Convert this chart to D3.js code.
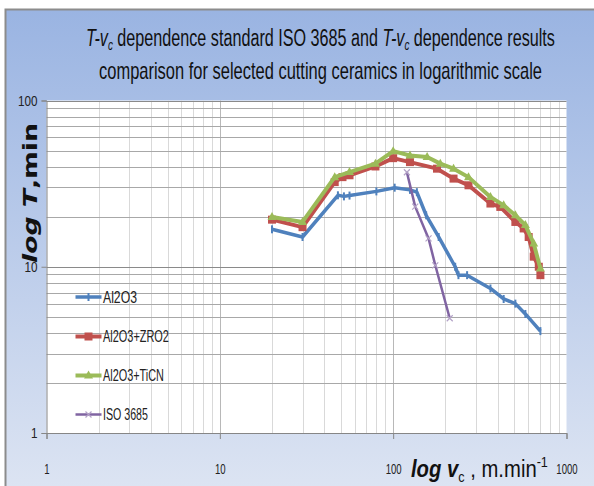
<!DOCTYPE html>
<html>
<head>
<meta charset="utf-8">
<script src="https://cdn.jsdelivr.net/npm/d3@7"></script>
<style>
  body { margin: 0; background: #fff; }
  svg { display: block; }
  text { font-family: "Liberation Sans", Arial, sans-serif; }
</style>
</head>
<body>
<svg id="chart" width="594" height="486"></svg>
<script>
// data (v in m/min, T in min)
const seriesNames = ["Al2O3", "Al2O3+ZRO2", "Al2O3+TiCN", "ISO 3685"];
const seriesColors = ["#4f81bd", "#c0504d", "#9bbb59", "#8064a2"];

const al2o3V = [20, 30, 48, 52, 56, 80, 102, 125, 137, 155, 183, 228, 238, 267, 364, 434, 507, 579, 707];
const al2o3T = [16.8, 15.1, 26.9, 26.5, 26.8, 28.4, 29.9, 29.0, 28.1, 20.4, 15.1, 10, 8.9, 8.9, 7.4, 6.4, 6.0, 5.2, 4.1];

const zro2V = [20, 30, 46, 51, 56, 79, 100, 125, 179, 223, 272, 364, 415, 507, 566, 605, 647, 692, 707];
const zro2T = [19.2, 17.3, 32.3, 34.6, 35.5, 40.1, 45.0, 42.6, 38.9, 33.9, 30.9, 24.0, 22.9, 18.6, 17.0, 15.1, 11.5, 10, 8.9];

const ticnV = [20, 30, 46, 56, 79, 100, 125, 157, 187, 223, 272, 364, 434, 507, 579, 647, 707];
const ticnT = [19.9, 18.6, 34.6, 37.1, 41.7, 49.6, 46.7, 45.7, 41.7, 38.9, 34.6, 26.3, 23.4, 20.4, 17.8, 13.8, 9.75];

const isoV = [120, 134, 160, 175, 212];
const isoT = [37, 23, 14.8, 10.2, 4.9];

const xTicks = [1, 10, 100, 1000];
const yTicks = [1, 10, 100];

const allV = [al2o3V, zro2V, ticnV, isoV];
const allT = [al2o3T, zro2T, ticnT, isoT];

const svg = d3.select("#chart");

// squeeze a text horizontally to a given width (fonts here are wider than the original's)
function squeeze(sel, width, ax, ay) {
  sel.each(function() {
    const w = this.getBBox().width;
    const s = width / w;
    d3.select(this).attr("transform",
      `translate(${ax},${ay}) scale(${s},1) translate(${-ax},${-ay})`);
  });
}

// chart background
const defs = svg.append("defs");
const grad = defs.append("linearGradient").attr("id", "bg")
    .attr("x1", 0).attr("y1", 0).attr("x2", 0).attr("y2", 1);
grad.append("stop").attr("offset", "0%").attr("stop-color", "#9ab4e2");
grad.append("stop").attr("offset", "100%").attr("stop-color", "#dfe6f3");

svg.append("rect").attr("x", 5.5).attr("y", 9.5).attr("width", 600).attr("height", 500)
    .attr("fill", "url(#bg)").attr("stroke", "#8c8c8c").attr("stroke-width", 2);

const pLeft = 46.5, pRight = 566.5, pTop = 100.5, pBottom = 433;

const x = d3.scaleLog().domain([1, 1000]).range([pLeft, pRight]);
const y = d3.scaleLog().domain([1, 100]).range([pBottom, pTop]);

svg.append("rect").attr("x", pLeft).attr("y", pTop)
    .attr("width", pRight - pLeft).attr("height", pBottom - pTop).attr("fill", "#fff");

// grid lines
const minor = [];
for (let d = 1; d < 1000; d *= 10) for (let k = 1; k < 10; k++) minor.push(d * k);

const grid = svg.append("g");
grid.selectAll(".vx").data(minor.filter(v => v > 1))
    .join("line")
    .attr("x1", d => Math.round(x(d)) + 0.5).attr("x2", d => Math.round(x(d)) + 0.5)
    .attr("y1", pTop).attr("y2", pBottom)
    .attr("stroke", d => xTicks.includes(d) ? "#b8b8b8" : "#d9d9d9").attr("stroke-width", 1);
grid.selectAll(".hy").data(minor.filter(v => v > 1 && v <= 100))
    .join("line")
    .attr("y1", d => Math.round(y(d)) + 0.5).attr("y2", d => Math.round(y(d)) + 0.5)
    .attr("x1", pLeft).attr("x2", pRight)
    .attr("stroke", d => yTicks.includes(d) ? "#8a8a8a" : "#a8a8a8").attr("stroke-width", 1);

// axes
const xAxis = d3.axisBottom(x).tickValues(xTicks).tickFormat(d3.format("d")).tickSize(6).tickPadding(24);
const yAxis = d3.axisLeft(y).tickValues(yTicks).tickFormat(d3.format("d")).tickSize(5).tickPadding(4);

const gx = svg.append("g").attr("transform", `translate(0,${pBottom})`).call(xAxis);
const gy = svg.append("g").attr("transform", `translate(${pLeft},0)`).call(yAxis);
[gx, gy].forEach(g => {
  g.select(".domain").attr("stroke", "#868686");
  g.selectAll(".tick line").attr("stroke", "#868686");
});
gx.selectAll(".tick text").attr("fill", "#222").style("font-size", "15px").attr("transform", "scale(0.64,1)");
gy.selectAll(".tick text").attr("fill", "#222").style("font-size", "15px")
  .attr("transform", "translate(-9,0) scale(0.78,1) translate(9,0)");

// series
const line = d3.line().x(d => x(d[0])).y(d => y(d[1]));
const widths = [3.5, 4, 4, 2.5];

seriesNames.forEach((name, i) => {
  const pts = allV[i].map((v, j) => [v, allT[i][j]]);
  svg.append("path").datum(pts).attr("d", line)
    .attr("fill", "none").attr("stroke", seriesColors[i])
    .attr("stroke-width", widths[i]).attr("stroke-linejoin", "round");
  const m = svg.append("g");
  pts.forEach(p => drawMarker(m, i, x(p[0]), y(p[1])));
});

function drawMarker(g, i, cx, cy) {
  const c = seriesColors[i];
  if (i === 0) {
    g.append("line").attr("x1", cx).attr("x2", cx).attr("y1", cy - 4).attr("y2", cy + 4)
      .attr("stroke", c).attr("stroke-width", 2);
  } else if (i === 1) {
    g.append("rect").attr("x", cx - 4).attr("y", cy - 4).attr("width", 8).attr("height", 8).attr("fill", c);
  } else if (i === 2) {
    g.append("path").attr("d", `M${cx},${cy - 5}L${cx + 4.5},${cy + 3}L${cx - 4.5},${cy + 3}Z`).attr("fill", c);
  } else {
    g.append("path").attr("d", `M${cx - 3},${cy - 3}L${cx + 3},${cy + 3}M${cx - 3},${cy + 3}L${cx + 3},${cy - 3}`)
      .attr("stroke", "#b3a2c7").attr("stroke-width", 1.2);
  }
}

// legend
const legY = [297, 336.5, 375.5, 414.5];
const legW = [34, 66, 61, 45];
seriesNames.forEach((name, i) => {
  const g = svg.append("g");
  g.append("line").attr("x1", 75.5).attr("x2", 101.5).attr("y1", legY[i]).attr("y2", legY[i])
    .attr("stroke", seriesColors[i]).attr("stroke-width", widths[i]);
  drawMarker(g, i, 88.5, legY[i]);
  const t = g.append("text").attr("x", 103).attr("y", legY[i] + 6).attr("fill", "#222")
    .style("font-size", "17px").text(name);
  squeeze(t, legW[i], 103, legY[i]);
});

// title
const title = svg.append("text").attr("text-anchor", "middle").attr("fill", "#111").style("font-size", "23px");
const t1 = title.append("tspan").attr("x", 320.5).attr("y", 46);
t1.append("tspan").style("font-style", "italic").text("T-v");
t1.append("tspan").style("font-style", "italic").attr("dy", 4).style("font-size", "14px").text("c");
t1.append("tspan").attr("dy", -4).text(" dependence standard ISO 3685 and ");
t1.append("tspan").style("font-style", "italic").text("T-v");
t1.append("tspan").style("font-style", "italic").attr("dy", 4).style("font-size", "14px").text("c");
t1.append("tspan").attr("dy", -4).text(" dependence results");
const title2 = svg.append("text").attr("text-anchor", "middle").attr("fill", "#111").style("font-size", "23px")
  .attr("x", 320.5).attr("y", 79).text("comparison for selected cutting ceramics in logarithmic scale");
squeeze(title, 469, 320.5, 46);
squeeze(title2, 443, 320.5, 79);

// y axis title
const yt = svg.append("text").attr("text-anchor", "middle").attr("fill", "#111")
  .style("font-size", "19px").style("font-weight", "bold")
  .style("font-family", "'DejaVu Sans', sans-serif")
  .attr("x", 0).attr("y", 0);
yt.append("tspan").style("font-style", "italic").text("log T");
yt.append("tspan").text(",min");
squeeze(yt, 140, 0, 0);
yt.attr("transform", `translate(37,193) rotate(-90) ${yt.attr("transform")}`);

// x axis title
const xt = svg.append("text").attr("x", 411).attr("y", 477).attr("fill", "#111").style("font-size", "24px");
xt.append("tspan").style("font-style", "italic").style("font-weight", "bold").text("log v");
xt.append("tspan").attr("dy", 5).style("font-size", "15px").text("c");
xt.append("tspan").attr("dy", -5).text(" , m.min");
xt.append("tspan").attr("dy", -10).style("font-size", "15px").text("-1");
squeeze(xt, 137, 411, 477);
</script>
</body>
</html>
